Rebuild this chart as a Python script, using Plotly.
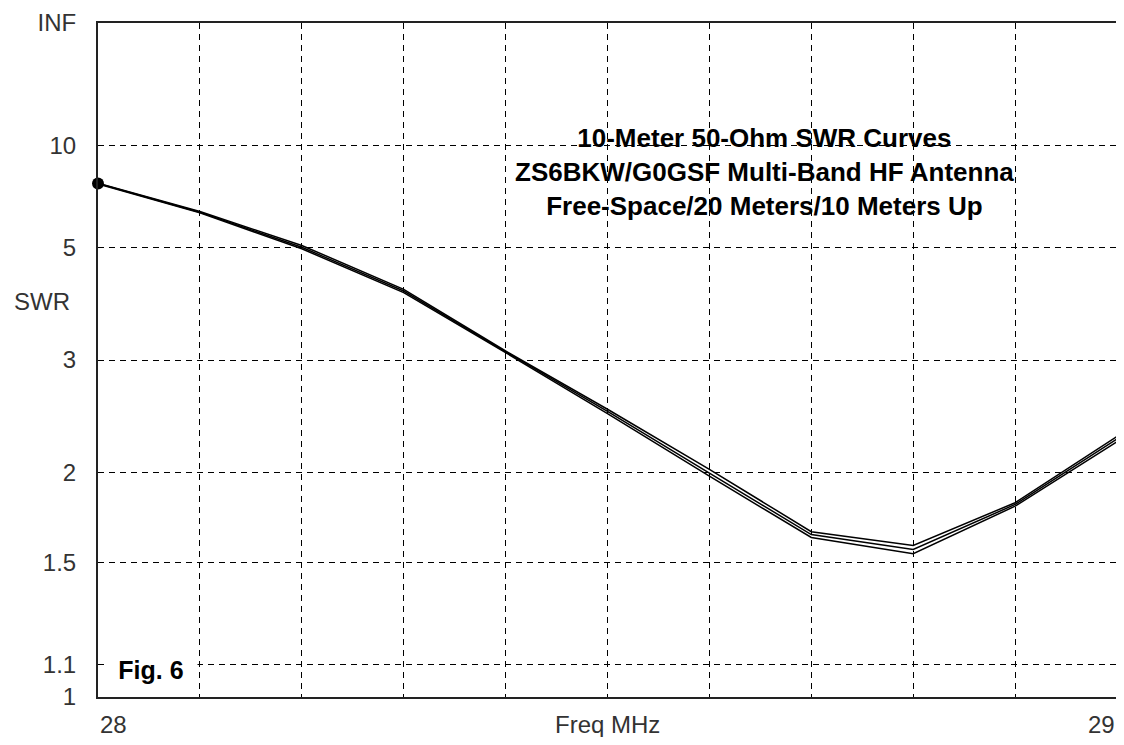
import plotly.graph_objects as go

# ---- data ----
freq_mhz = [28.0, 28.1, 28.2, 28.3, 28.4, 28.5, 28.6, 28.7, 28.8, 28.9, 29.0]
swr_free_space = [7.42, 6.15, 5.06, 4.06, 3.11, 2.49, 2.02, 1.65, 1.58, 1.81, 2.26]
swr_20_meters = [7.40, 6.12, 5.01, 4.03, 3.10, 2.47, 1.995, 1.635, 1.56, 1.80, 2.24]
swr_10_meters = [7.38, 6.10, 4.97, 4.00, 3.09, 2.45, 1.975, 1.62, 1.54, 1.79, 2.22]

y_tick_swr = [1.0, 1.1, 1.5, 2.0, 3.0, 5.0, 10.0, float("inf")]
y_tick_labels = ["1", "1.1", "1.5", "2", "3", "5", "10", "INF"]
x_grid_mhz = [28.0, 28.1, 28.2, 28.3, 28.4, 28.5, 28.6, 28.7, 28.8, 28.9, 29.0]
x_end_labels = ["28", "29"]

title_lines = ["10-Meter 50-Ohm SWR Curves",
               "ZS6BKW/G0GSF Multi-Band HF Antenna",
               "Free-Space/20 Meters/10 Meters Up"]


def swr_scale(s):
    """SWR plotted on a reflection-coefficient scale."""
    if s == float("inf"):
        return 1.0
    return (s - 1.0) / (s + 1.0)


FONT = "Liberation Sans, Arial, sans-serif"
OFF = 8                      # page body margin in the browser
W, H = 1112, 729
PL, PR, PT, PB = 98, 1119, 20, 697   # plot area on the page
ML, MT = PL - OFF, PT - OFF
MR = OFF + W - PR
MB = OFF + H - PB
PW, PH = PR - PL, PB - PT
XLAB_Y = 724


def px_x(px):
    return (px - PL) / PW


def px_y(py):
    return (PB - py) / PH


fig = go.Figure()
for series in (swr_free_space, swr_20_meters, swr_10_meters):
    fig.add_trace(go.Scatter(
        x=freq_mhz, y=[swr_scale(v) for v in series], mode="lines",
        line=dict(color="black", width=1.5), showlegend=False, hoverinfo="skip"))

fig.add_trace(go.Scatter(
    x=[freq_mhz[0]], y=[swr_scale(swr_20_meters[0])], mode="markers",
    marker=dict(color="black", size=12), cliponaxis=False, showlegend=False))

fig.update_layout(
    width=W, height=H,
    margin=dict(l=ML, r=MR, t=MT, b=MB, pad=0),
    paper_bgcolor="white", plot_bgcolor="white",
    font=dict(family=FONT, size=24, color="#333"),
    xaxis=dict(
        range=[freq_mhz[0], freq_mhz[-1]], tickmode="array", tickvals=x_grid_mhz,
        showticklabels=False, ticks="", showgrid=True, gridcolor="black",
        gridwidth=1, griddash="6px,5px", showline=True, linecolor="#222",
        linewidth=2, mirror=True, zeroline=False),
    yaxis=dict(
        range=[0, 1], tickmode="array",
        tickvals=[swr_scale(s) for s in y_tick_swr], ticktext=y_tick_labels,
        ticks="outside", ticklen=15, tickcolor="rgba(0,0,0,0)",
        ticklabeloverflow="allow",
        tickfont=dict(family=FONT, size=24, color="#333"),
        showgrid=True, gridcolor="black", gridwidth=1, griddash="6px,5px",
        showline=True, linecolor="#222", linewidth=2, mirror=True, zeroline=False),
)

# white box behind the title (hides grid lines)
fig.add_shape(type="rect", xref="paper", yref="paper",
              x0=px_x(471), x1=px_x(1059), y0=px_y(290), y1=px_y(67),
              fillcolor="white", line=dict(width=0), layer="between")

fig.add_annotation(
    xref="paper", yref="paper", x=px_x(766), y=px_y(170),
    xanchor="center", yanchor="middle", showarrow=False,
    text="<br>".join("<b>%s</b>" % t for t in title_lines),
    font=dict(family=FONT, size=26, color="black"), align="center")

fig.add_annotation(
    xref="paper", yref="paper", x=px_x(151), y=px_y(670),
    xanchor="center", yanchor="middle", showarrow=False, width=90,
    text="<b>Fig. 6</b>", bgcolor="white",
    font=dict(family=FONT, size=25, color="black"), align="center")

fig.add_annotation(
    xref="paper", yref="paper", x=px_x(12), y=px_y(300),
    xanchor="left", yanchor="middle", showarrow=False, text="SWR",
    font=dict(family=FONT, size=24, color="#333"))

fig.add_annotation(
    xref="x", yref="paper", x=freq_mhz[0], y=0, yshift=-(XLAB_Y - PB),
    xanchor="left", yanchor="middle", showarrow=False, text=x_end_labels[0],
    font=dict(family=FONT, size=24, color="#333"))
fig.add_annotation(
    xref="x", yref="paper", x=freq_mhz[-1], y=0, yshift=-(XLAB_Y - PB),
    xanchor="right", yanchor="middle", showarrow=False, text=x_end_labels[1],
    font=dict(family=FONT, size=24, color="#333"))
fig.add_annotation(
    xref="paper", yref="paper", x=0.5, y=0, yshift=-(XLAB_Y - PB),
    xanchor="center", yanchor="middle", showarrow=False, text="Freq MHz",
    font=dict(family=FONT, size=24, color="#333"))

fig.write_html("out.html")
